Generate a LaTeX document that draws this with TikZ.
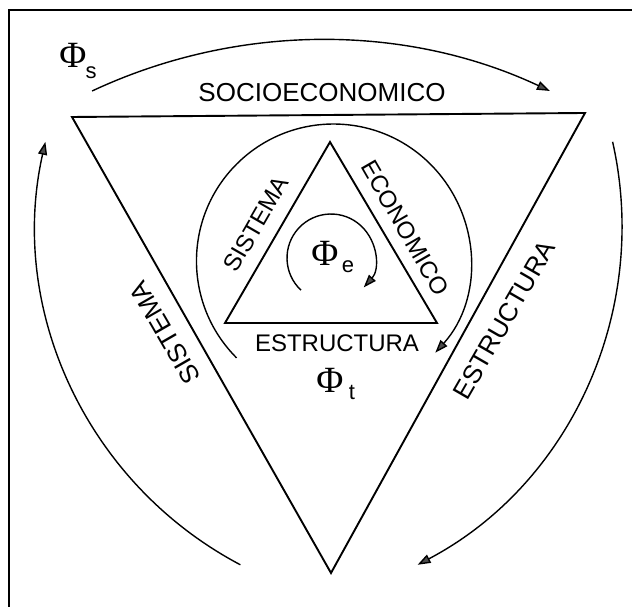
\documentclass[tikz,border=0pt]{standalone}
\usepackage{fontspec}
\setmainfont{Liberation Sans}
\newfontfamily\phifont{Liberation Serif}
\usetikzlibrary{arrows.meta}
\begin{document}
\begin{tikzpicture}[x=1pt,y=1pt,
  edge/.style={line width=1.9pt, line join=miter},
  flow/.style={line width=1.4pt, -{Triangle[length=13pt,width=9pt,fill=black!70]}},
  biglab/.style={inner sep=0pt, font=\fontsize{26}{26}\selectfont},
  smalllab/.style={inner sep=0pt, font=\fontsize{24}{24}\selectfont},
  phi/.style={inner sep=0pt, font=\phifont\fontsize{37}{37}\selectfont},
  sub/.style={inner sep=0pt, font=\fontsize{22}{22}\selectfont}]
\useasboundingbox (0,0) rectangle (632,607);
% frame
\coordinate (fr1) at (9,0); \coordinate (fr2) at (9,597); \coordinate (fr3) at (632,597);
\draw[line width=2pt] (fr1) -- (fr2) -- (fr3);
% outer triangle
\coordinate (A) at (72,490); \coordinate (B) at (585,494); \coordinate (C) at (331,34);
\draw[edge] (A) -- (B) -- (C) -- cycle;
% inner triangle
\coordinate (D) at (330,465); \coordinate (E) at (225,284); \coordinate (F) at (437,284);
\draw[edge] (D) -- (F) -- (E) -- cycle;
% outer flows
\coordinate (ts) at (92.1,516);
\draw[flow] (ts) arc[start angle=115.1, end angle=64.9, radius=539.6];
\coordinate (rs) at (612.6,465.2);
\draw[flow] (rs) arc[start angle=12.7, end angle=-62.2, radius=383];
\coordinate (ls) at (240.4,42.2);
\draw[flow] (ls) arc[start angle=242.2, end angle=167.3, radius=383];
% middle flow
\coordinate (cs) at (236.6,249.1);
\draw[flow] (cs) arc[start angle=225, end angle=-42, radius=137];
% inner flow
\coordinate (ss) at (301,316.8);
\draw[flow] (ss) arc[start angle=227, end angle=-42, radius=44];
% labels
\node[biglab] (soc) at (322,514) {SOCIOECONOMICO};
\node[biglab, rotate=60] (estO) at (504,287) {ESTRUCTURA};
\node[biglab, rotate=120] (sisO) at (165,274) {SISTEMA};
\node[smalllab] (estI) at (337,264) {ESTRUCTURA};
\node[smalllab, rotate=60] (sisI) at (256,383) {SISTEMA};
\node[smalllab, rotate=-60] (eco) at (405,379) {ECONOMICO};
% Phi labels
\node[phi] (phis) at (73,552) {Φ}; \node[sub] (s) at (91,534) {s};
\node[phi] (phie) at (325,354) {Φ}; \node[sub] (e) at (348,340) {e};
\node[phi] (phit) at (330,227) {Φ}; \node[sub] (t) at (352,215) {t};
\end{tikzpicture}
\end{document}
